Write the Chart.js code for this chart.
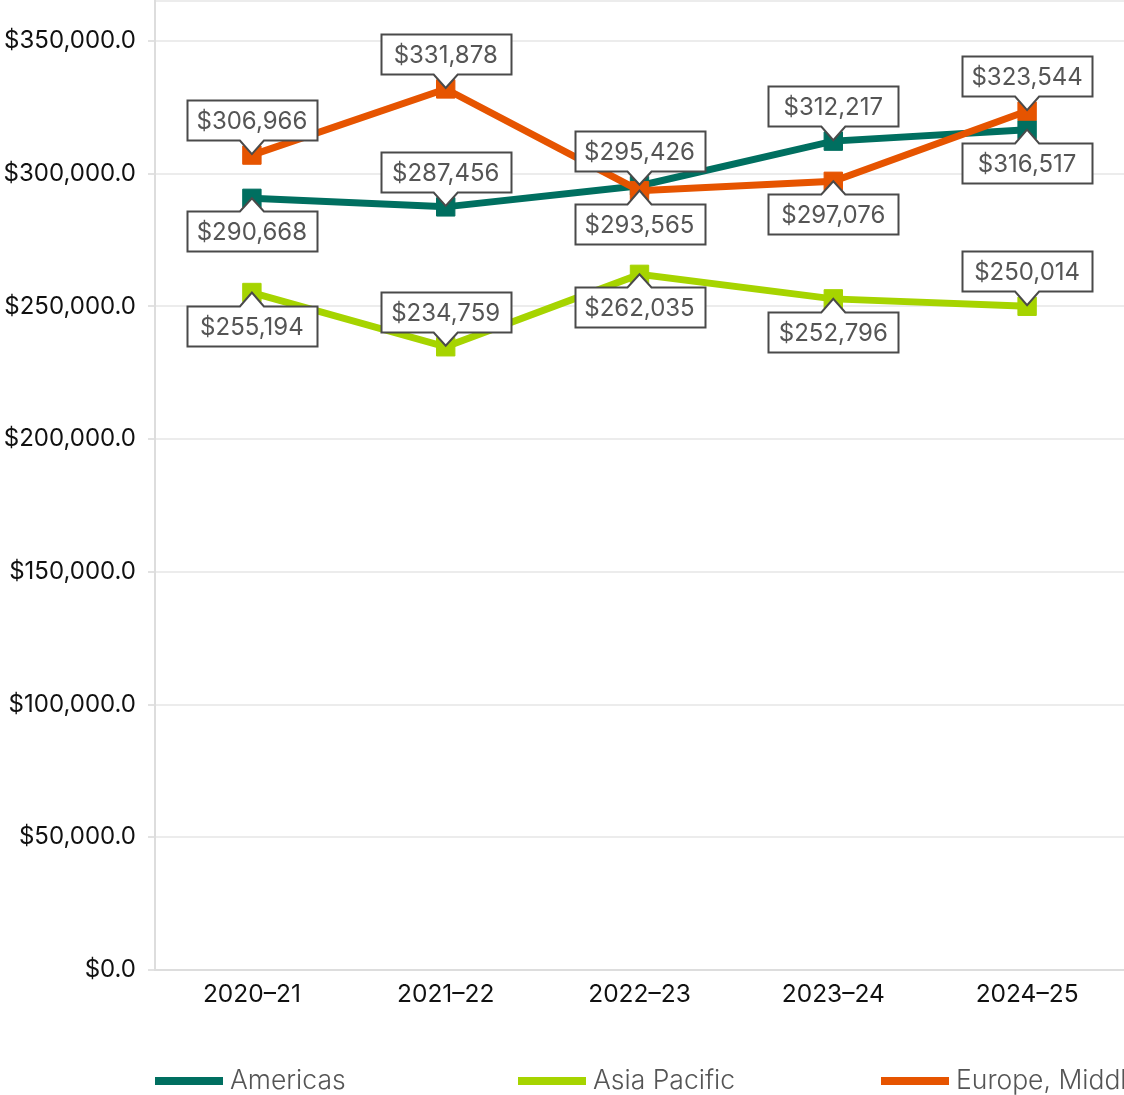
<!DOCTYPE html>
<html>
<head>
<meta charset="utf-8">
<script src="https://cdn.jsdelivr.net/npm/chart.js@4.4.1/dist/chart.umd.min.js"></script>
<style>
  html, body { margin: 0; padding: 0; background: #ffffff; }
  #wrap { width: 1124px; height: 1095px; }
</style>
</head>
<body>
<div id="wrap"><canvas id="c" width="1124" height="1095"></canvas></div>
<script>
// ---- data ----
const categories = ['2020\u201321', '2021\u201322', '2022\u201323', '2023\u201324', '2024\u201325'];
const seriesNames = ['Americas', 'Asia Pacific', 'Europe, Middle East and Africa'];
const americas = [290668, 287456, 295426, 312217, 316517];
const asiaPacific = [255194, 234759, 262035, 252796, 250014];
const emea = [306966, 331878, 293565, 297076, 323544];
const yTickValues = [0, 50000, 100000, 150000, 200000, 250000, 300000, 350000];
const yMax = 365000;

// label placement (style)
const labelSide = [
  ['below', 'above', 'above', 'above', 'below'],
  ['below', 'above', 'below', 'below', 'above'],
  ['above', 'above', 'below', 'below', 'above']
];
const colors = ['#006f60', '#a6d400', '#e65400'];

const fmtMoney = v => '$' + Math.round(v).toLocaleString('en-US');

const calloutPlugin = {
  id: 'callouts',
  afterDatasetsDraw(chart) {
    const ctx = chart.ctx;
    ctx.save();
    ctx.font = '400 24px Inter';
    ctx.textAlign = 'center';
    ctx.textBaseline = 'middle';
    chart.data.datasets.forEach((ds, i) => {
      const meta = chart.getDatasetMeta(i);
      meta.data.forEach((pt, j) => {
        const txt = fmtMoney(ds.data[j]);
        const w = 130;
        const h = 40, ph = 14, pw = 12;
        const cx = pt.x, py = pt.y;
        const L = Math.round(cx - w / 2) + 0.5, R = Math.round(cx + w / 2) + 0.5;
        ctx.beginPath();
        let ty;
        if (labelSide[i][j] === 'above') {
          const tip = py - 1, B = Math.round(tip - ph) + 0.5, T = B - h;
          ctx.moveTo(L, T); ctx.lineTo(R, T); ctx.lineTo(R, B);
          ctx.lineTo(cx + pw, B); ctx.lineTo(cx, tip); ctx.lineTo(cx - pw, B);
          ctx.lineTo(L, B); ctx.closePath();
          ty = (T + B) / 2 + 1;
        } else {
          const tip = py, T = Math.round(tip + ph) - 0.5, B = T + h;
          ctx.moveTo(L, T); ctx.lineTo(cx - pw, T); ctx.lineTo(cx, tip); ctx.lineTo(cx + pw, T);
          ctx.lineTo(R, T); ctx.lineTo(R, B); ctx.lineTo(L, B); ctx.closePath();
          ty = (T + B) / 2 + 1;
        }
        ctx.fillStyle = '#ffffff';
        ctx.fill();
        ctx.lineWidth = 2;
        ctx.strokeStyle = '#4a4a4a';
        ctx.stroke();
        ctx.fillStyle = '#555555';
        ctx.fillText(txt, cx, ty);
      });
    });
    ctx.restore();
  }
};

const legendPlugin = {
  id: 'customLegend',
  afterDraw(chart) {
    const ctx = chart.ctx;
    ctx.save();
    ctx.font = '300 26.5px Inter';
    ctx.textAlign = 'left';
    ctx.textBaseline = 'middle';
    const y = 1081;
    chart.data.datasets.forEach((ds, i) => {
      const x = 155 + i * 363;
      ctx.fillStyle = ds.borderColor;
      ctx.fillRect(x, y - 4, 68, 8);
      ctx.fillStyle = '#555555';
      ctx.fillText(ds.label, x + 75, y);
    });
    ctx.restore();
  }
};

const seriesData = [americas, asiaPacific, emea];
const orders = [1, 2, 0];

new Chart(document.getElementById('c'), {
  type: 'line',
  data: {
    labels: categories,
    datasets: seriesData.map((d, i) => ({
      label: seriesNames[i],
      data: d,
      borderColor: colors[i],
      backgroundColor: colors[i],
      borderWidth: 7,
      pointStyle: 'rect',
      pointRadius: 13,
      pointBorderWidth: 1,
      pointHoverRadius: 13,
      tension: 0,
      order: orders[i]
    }))
  },
  options: {
    responsive: false,
    animation: false,
    events: [],
    layout: { autoPadding: false, padding: { top: 1, left: 0, right: 0, bottom: 0 } },
    plugins: {
      legend: { display: false },
      tooltip: { enabled: false }
    },
    scales: {
      x: {
        offset: true,
        grid: { display: false },
        border: { display: true, color: '#dddddd', width: 2 },
        ticks: { color: '#111111', font: { family: 'Inter', size: 24.5 }, padding: 2, maxRotation: 0 },
        afterFit(scale) {
          scale.height = 125;
          scale.paddingLeft = 0; scale.paddingRight = 0;
          scale.paddingTop = 0; scale.paddingBottom = 0;
        }
      },
      y: {
        min: 0,
        max: yMax,
        afterBuildTicks(axis) {
          axis.ticks = yTickValues.concat([yMax]).map(v => ({ value: v }));
        },
        grid: {
          color: '#ececec',
          lineWidth: 2,
          tickLength: 7,
          tickColor: c => (c.tick && c.tick.value === yMax) ? 'rgba(0,0,0,0)' : '#e2e2e2'
        },
        border: { display: true, color: '#dddddd', width: 2 },
        ticks: {
          color: '#111111',
          font: { family: 'Inter', size: 24 },
          padding: 12,
          callback: v => v === yMax ? '' : '$' + v.toLocaleString('en-US', { minimumFractionDigits: 1, maximumFractionDigits: 1 })
        },
        afterFit(scale) {
          scale.width = 155;
          scale.paddingTop = 0; scale.paddingBottom = 0;
          scale.paddingLeft = 0; scale.paddingRight = 0;
        }
      }
    }
  },
  plugins: [calloutPlugin, legendPlugin]
});
</script>
</body>
</html>
